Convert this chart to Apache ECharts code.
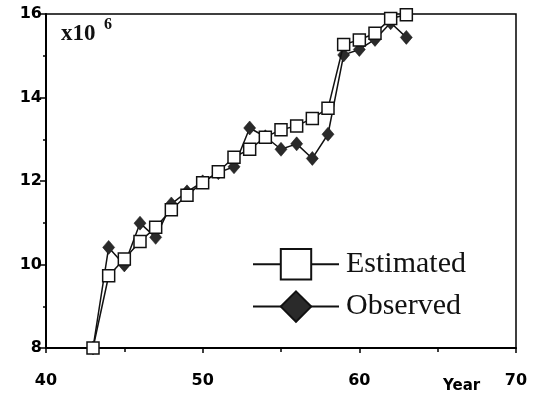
<!DOCTYPE html>
<html>
<head>
<meta charset="utf-8">
<script src="https://cdn.jsdelivr.net/npm/echarts@6/dist/echarts.min.js"></script>
<style>
  html, body { margin: 0; padding: 0; background: #fff; }
  #chart { width: 540px; height: 395px; }
</style>
</head>
<body>
<div id="chart"></div>
<script>
var years = [43, 44, 45, 46, 47, 48, 49, 50, 51, 52, 53, 54, 55, 56, 57, 58, 59, 60, 61, 62, 63];
var estimated = [8.0, 9.73, 10.13, 10.55, 10.89, 11.31, 11.66, 11.96, 12.22, 12.57, 12.76, 13.05, 13.23, 13.32, 13.50, 13.74, 15.27, 15.38, 15.54, 15.89, 15.98];
var observed = [8.0, 10.41, 9.99, 10.99, 10.65, 11.45, 11.74, 11.98, 12.20, 12.34, 13.27, 13.06, 12.76, 12.89, 12.54, 13.12, 15.02, 15.15, 15.39, 15.79, 15.44];
var seriesNames = ['Estimated', 'Observed'];

var chart = echarts.init(document.getElementById('chart'));

function pairs(vals) {
  return years.map(function (y, i) { return [y, vals[i]]; });
}

var labelFont = {
  color: '#000',
  fontFamily: 'DejaVu Sans',
  fontWeight: 'bold',
  fontSize: 16
};

var option = {
  animation: false,
  backgroundColor: '#fff',
  grid: {
    left: 46,
    right: 24,
    top: 14,
    bottom: 47,
    show: true,
    borderColor: '#000',
    borderWidth: 1.5
  },
  xAxis: {
    type: 'value',
    min: 40,
    max: 70,
    interval: 10,
    axisLine: { lineStyle: { color: '#000', width: 2 } },
    axisTick: { length: 5, lineStyle: { color: '#000', width: 1.5 } },
    minorTick: { show: true, splitNumber: 2, length: 4, lineStyle: { color: '#000', width: 1.5 } },
    splitLine: { show: false },
    axisLabel: Object.assign({ margin: 25 }, labelFont)
  },
  yAxis: {
    type: 'value',
    min: 8,
    max: 16,
    interval: 2,
    axisLine: { show: true, lineStyle: { color: '#000', width: 2 } },
    axisTick: { show: true, length: 6, lineStyle: { color: '#000', width: 1.5 } },
    minorTick: { show: true, splitNumber: 2, length: 3, lineStyle: { color: '#000', width: 1.5 } },
    splitLine: { show: false },
    axisLabel: Object.assign({ margin: 4 }, labelFont)
  },
  legend: {
    data: seriesNames,
    orient: 'vertical',
    left: 247,
    top: 243,
    itemWidth: 86,
    itemHeight: 38,
    itemGap: 10,
    textStyle: {
      color: '#111',
      fontFamily: 'Liberation Serif',
      fontSize: 30,
      padding: [0, 0, 0, 2]
    }
  },
  graphic: [
    {
      type: 'text',
      left: 61,
      top: 23,
      style: { text: 'x10', fill: '#111', font: 'bold 23px "Liberation Serif"' }
    },
    {
      type: 'text',
      left: 104,
      top: 17,
      style: { text: '6', fill: '#111', font: 'bold 16px "Liberation Serif"' }
    },
    {
      type: 'text',
      left: 443,
      top: 379,
      style: { text: 'Year', fill: '#000', font: 'bold 15px "DejaVu Sans"' }
    }
  ],
  series: [
    {
      name: seriesNames[1],
      type: 'line',
      data: pairs(observed),
      clip: false,
      symbol: 'diamond',
      symbolSize: [12, 14],
      lineStyle: { color: '#111', width: 1.5 },
      itemStyle: { color: '#2a2a2a', borderColor: '#111', borderWidth: 0.5 },
      z: 2
    },
    {
      name: seriesNames[0],
      type: 'line',
      data: pairs(estimated),
      clip: false,
      symbol: 'rect',
      symbolSize: 12,
      lineStyle: { color: '#111', width: 1.5 },
      itemStyle: { color: '#fff', borderColor: '#111', borderWidth: 1.5 },
      z: 3
    }
  ]
};

chart.setOption(option);
</script>
</body>
</html>
